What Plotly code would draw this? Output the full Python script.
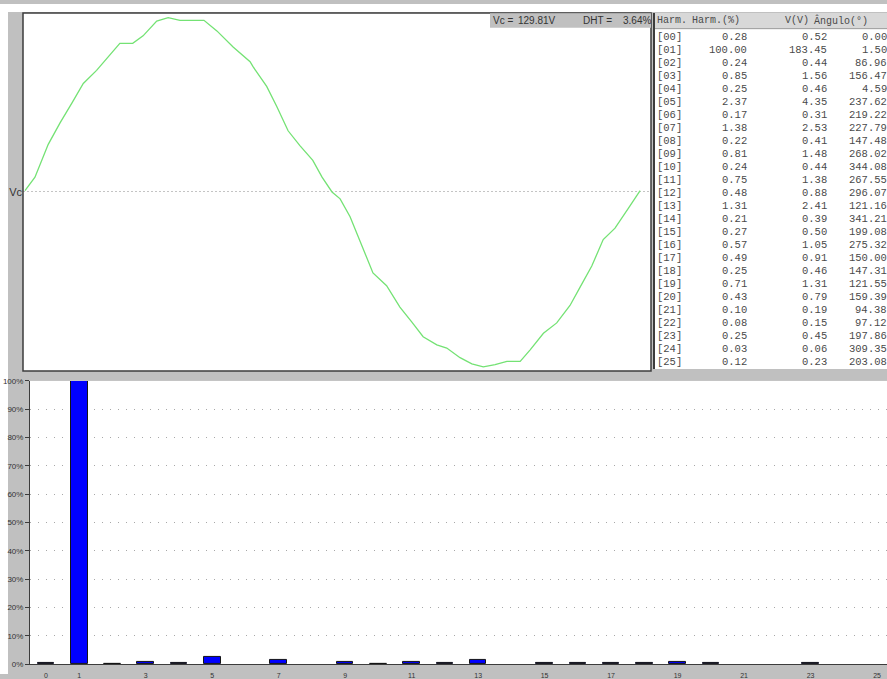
import plotly.graph_objects as go

W, H = 887, 679

# One cycle of the Vc waveform: time (ms) and instantaneous voltage (V)
wave_t_ms = [0.00, 0.27, 0.63, 0.95, 1.27, 1.58, 1.94, 2.25, 2.57, 2.92, 3.20, 3.57, 3.88,
             4.20, 4.85, 5.20, 5.64, 6.10, 6.18, 6.55, 6.82, 7.13, 7.45, 7.80, 8.05, 8.32,
             8.54, 8.81, 9.13, 9.43, 9.80, 10.16, 10.48, 10.79, 11.16, 11.43, 11.79, 12.11,
             12.42, 12.74, 13.06, 13.42, 13.69, 14.05, 14.41, 14.77, 15.04, 15.36, 15.67,
             15.99, 16.35, 16.67]
wave_v = [1.5, 15.5, 49.7, 72.1, 92.7, 113.3, 127.0, 141.1, 155.2, 155.2, 163.0, 178.5, 182.0,
          179.2, 179.2, 168.2, 151.4, 136.0, 130.8, 110.2, 89.6, 63.9, 48.4, 33.0, 15.5, 0.0,
          -7.2, -25.8, -56.7, -84.5, -97.9, -120.2, -135.7, -151.1, -159.7, -163.0, -173.0,
          -179.5, -182.6, -180.3, -176.9, -176.9, -164.8, -147.6, -136.7, -118.5, -99.6,
          -77.3, -49.7, -37.8, -17.2, 1.5]

# Summary values
vc_rms = 129.81
dht_pct = 3.64

# Harmonic table
harm_order = list(range(26))
harm_pct = [0.28, 100.00, 0.24, 0.85, 0.25, 2.37, 0.17, 1.38, 0.22, 0.81, 0.24, 0.75, 0.48,
            1.31, 0.21, 0.27, 0.57, 0.49, 0.25, 0.71, 0.43, 0.10, 0.08, 0.25, 0.03, 0.12]
harm_volts = [0.52, 183.45, 0.44, 1.56, 0.46, 4.35, 0.31, 2.53, 0.41, 1.48, 0.44, 1.38, 0.88,
              2.41, 0.39, 0.50, 1.05, 0.91, 0.46, 1.31, 0.79, 0.19, 0.15, 0.45, 0.06, 0.23]
harm_angle = [0.00, 1.50, 86.96, 156.47, 4.59, 237.62, 219.22, 227.79, 147.48, 268.02, 344.08,
              267.55, 296.07, 121.16, 341.21, 199.08, 275.32, 150.00, 147.31, 121.55, 159.39,
              94.38, 97.12, 197.86, 309.35, 203.08]

table_header = ["Harm.", "Harm.(%)", "V(V)", "Ângulo(°)"]
bar_tick_vals = [0, 1, 3, 5, 7, 9, 11, 13, 15, 17, 19, 21, 23, 25]
pct_tick_vals = list(range(0, 101, 10))

GRAY = "#c0c0c0"
DARK = "#3c3c3c"
SANS = "Liberation Sans, Arial, sans-serif"
MONO = "Liberation Mono, Courier New, monospace"


def px(x):
    return x / W


def py(y):
    return 1 - y / H


fig = go.Figure()

fig.add_trace(go.Scatter(
    x=wave_t_ms, y=wave_v, mode="lines",
    line=dict(color="#74e274", width=1.3),
    xaxis="x", yaxis="y", hoverinfo="skip", showlegend=False,
))

# bars shorter than the drawing resolution are not painted
min_visible = 0.23
bar_colors = ["#0000ff" if p >= min_visible else "rgba(0,0,0,0)" for p in harm_pct]
bar_lines = [1 if p >= min_visible else 0 for p in harm_pct]
fig.add_trace(go.Bar(
    x=harm_order, y=harm_pct, width=0.5,
    marker=dict(color=bar_colors, line=dict(color="#151515", width=bar_lines)),
    xaxis="x2", yaxis="y2", showlegend=False, hoverinfo="skip",
))

shapes = []
annotations = []

# white frame around the window
shapes.append(dict(type="rect", xref="paper", yref="paper", x0=0, x1=px(8), y0=0, y1=1,
                   fillcolor="white", line=dict(width=0), layer="below"))
shapes.append(dict(type="rect", xref="paper", yref="paper", x0=0, x1=1, y0=py(8), y1=1,
                   fillcolor="white", line=dict(width=0), layer="below"))

# waveform panel border
shapes.append(dict(type="rect", xref="paper", yref="paper", x0=px(23), x1=px(651),
                   y0=py(372), y1=py(9), line=dict(color=DARK, width=1.5), layer="above"))

# summary box
shapes.append(dict(type="rect", xref="paper", yref="paper", x0=px(490), x1=px(651),
                   y0=py(24), y1=py(9.5), fillcolor=GRAY, line=dict(width=0), layer="above"))


def text(x, y, s, anchor, font, size, color="#333333"):
    annotations.append(dict(
        x=px(x), y=py(y), xref="paper", yref="paper", text=s, showarrow=False,
        xanchor=anchor, yanchor="middle", borderpad=0, borderwidth=0,
        font=dict(family=font, size=size, color=color),
    ))


text(493, 17, "Vc =", "left", SANS, 10)
text(556, 17, f"{vc_rms:.2f}V", "right", SANS, 10)
text(583, 17, "DHT =", "left", SANS, 10)
text(651, 17, f"{dht_pct:.2f}%", "right", SANS, 10)

# harmonic table panel
shapes.append(dict(type="rect", xref="paper", yref="paper", x0=px(653), x1=1,
                   y0=py(370), y1=py(9), fillcolor="white",
                   line=dict(width=0), layer="below"))
shapes.append(dict(type="rect", xref="paper", yref="paper", x0=px(653), x1=1,
                   y0=py(25), y1=py(9), fillcolor="#d8d8d8",
                   line=dict(width=0), layer="below"))
shapes.append(dict(type="line", xref="paper", yref="paper", x0=px(653), x1=1,
                   y0=py(25), y1=py(25), line=dict(color="#9a9a9a", width=1)))
shapes.append(dict(type="line", xref="paper", yref="paper", x0=px(654), x1=px(654),
                   y0=py(370), y1=py(9), line=dict(color=DARK, width=2)))

tcolor = "#4a4a4a"
header_x = [657, 692, 785, 814]
for hx, htxt in zip(header_x, table_header):
    text(hx, 17, htxt, "left", MONO, 10, tcolor)

row_y0, row_step = 33.3, 13.18
for i, h in enumerate(harm_order):
    y = row_y0 + i * row_step
    text(657, y, f"[{h:02d}]", "left", MONO, 10.5, tcolor)
    text(747, y, f"{harm_pct[i]:.2f}", "right", MONO, 10.5, tcolor)
    text(827, y, f"{harm_volts[i]:.2f}", "right", MONO, 10.5, tcolor)
    text(887, y, f"{harm_angle[i]:.2f}", "right", MONO, 10.5, tcolor)

fig.update_layout(
    width=W, height=H, autosize=False,
    margin=dict(l=0, r=0, t=0, b=0, pad=0),
    paper_bgcolor=GRAY, plot_bgcolor="white",
    showlegend=False, bargap=0,
    xaxis=dict(domain=[px(23), px(651)], range=[-0.054, 16.965], anchor="y",
               showticklabels=False, showgrid=False, zeroline=False, showline=False,
               ticks="", fixedrange=True),
    yaxis=dict(domain=[py(372), py(9)], range=[-187, 187], anchor="x",
               tickvals=[0], ticktext=["Vc"], ticks="",
               tickfont=dict(family=SANS, size=11, color="#333333"),
               showgrid=True, gridcolor="#c4c4c4", griddash="2px,2px", gridwidth=1,
               zeroline=False, showline=False, fixedrange=True),
    xaxis2=dict(domain=[px(30), 1], range=[-0.481, 25.30], anchor="y2",
                tickvals=bar_tick_vals, ticktext=[str(v) for v in bar_tick_vals],
                tickfont=dict(family=SANS, size=7, color="#333333"),
                ticks="", ticklabelstandoff=4, showgrid=False, zeroline=False,
                showline=True, linecolor=DARK, linewidth=1, fixedrange=True),
    yaxis2=dict(domain=[py(669), py(382)], range=[0, 100], anchor="x2",
                tickvals=pct_tick_vals, ticktext=[f"{v}%" for v in pct_tick_vals],
                tickfont=dict(family=SANS, size=8, color="#333333"),
                ticks="outside", ticklen=4, tickcolor=DARK,
                showgrid=True, gridcolor="#a8a8a8", griddash="1px,7px", gridwidth=1,
                zeroline=False, showline=True, linecolor=DARK, linewidth=1,
                fixedrange=True),
    shapes=shapes,
    annotations=annotations,
)

fig.write_html("out.html")
